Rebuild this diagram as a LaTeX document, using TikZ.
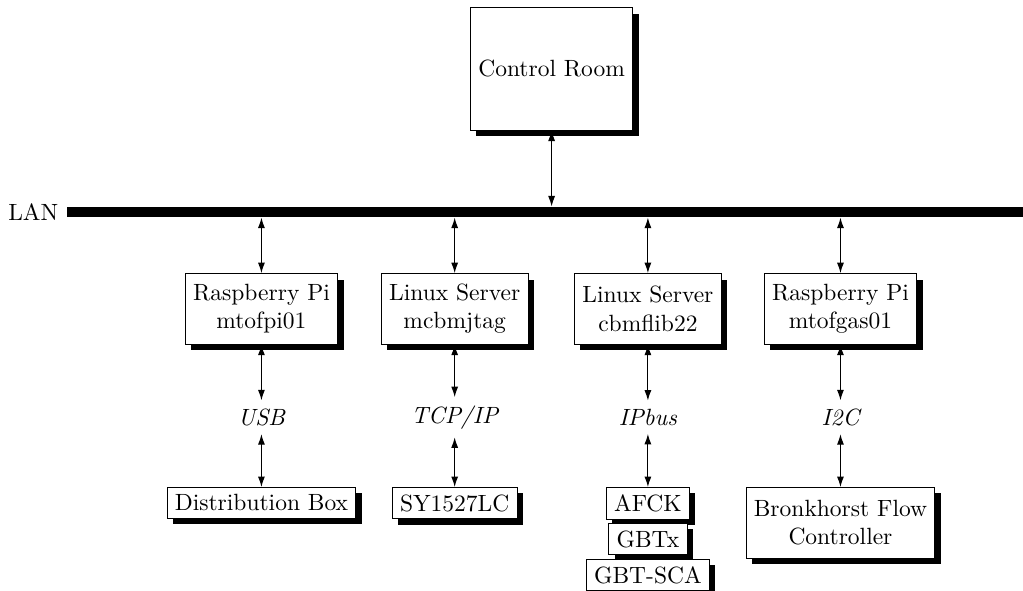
\documentclass[tikz,border=0pt]{standalone}
\usepackage{tikz}
\usetikzlibrary{shadows,positioning,arrows.meta}

\begin{document}
\begin{tikzpicture}
	[unit node/.style={rectangle, draw, fill=white, align=center, inner ysep=3pt, drop shadow={shadow xshift=2.5pt, shadow yshift=-2.5pt, fill=black, opacity=1}},
	 pair node/.style={unit node, minimum height=30pt},
	 link node/.style={font=\itshape},
	 link/.style={{Latex[length=4.5pt, width=3pt]}-{Latex[length=4.5pt, width=3pt]}, line width=0.5pt}]
	\useasboundingbox (0, 0) rectangle (15.30, -8.826);
	\node[unit node, minimum height=52pt] (cr) at (8.25, -1.03) {Control Room};
	\node[fill=black, minimum width=14.30cm, minimum height=0.15cm, inner sep=0pt] (lan) at (8.152, -3.171) {};
	\node[left=0pt of lan] (lanname) {LAN};
	% computers
	\node[pair node] (pi) at (3.91, -4.62) {Raspberry Pi\\mtofpi01};
	\node[pair node] (mj) at (6.80, -4.62) {Linux Server\\mcbmjtag};
	\node[pair node] (fl) at (9.69, -4.62) {Linux Server\\cbmflib22};
	\node[pair node] (gas) at (12.57, -4.62) {Raspberry Pi\\mtofgas01};
	% interfaces
	\node[link node] (usb) at (3.91, -6.24) {USB};
	\node[link node] (tcp) at (6.80, -6.24) {TCP/IP};
	\node[link node] (ipbus) at (9.69, -6.24) {IPbus};
	\node[link node] (i2c) at (12.57, -6.24) {I2C};
	% devices
	\node[unit node, anchor=north] (dist) at (3.91, -7.285) {Distribution Box};
	\node[unit node, anchor=north] (sy) at (6.80, -7.285) {SY1527LC};
	\node[unit node, anchor=north] (afck) at (9.69, -7.285) {AFCK};
	\node[unit node, below=1.5pt of afck] (gbtx) {GBTx};
	\node[unit node, below=1.5pt of gbtx] (sca) {GBT-SCA};
	\node[pair node, anchor=north] (flow) at (12.57, -7.285) {Bronkhorst Flow\\Controller};
	\path[link] (cr) edge (cr |- lan.north);
	\path[link] (pi |- lan.south) edge (pi);
	\path[link] (mj |- lan.south) edge (mj);
	\path[link] (fl |- lan.south) edge (fl);
	\path[link] (gas |- lan.south) edge (gas);
	\path[link] (pi) edge (usb);
	\path[link] (mj) edge (tcp);
	\path[link] (fl) edge (ipbus);
	\path[link] (gas) edge (i2c);
	\path[link] (usb) edge (dist);
	\path[link] (tcp) edge (sy);
	\path[link] (ipbus) edge (afck);
	\path[link] (i2c) edge (flow);
\end{tikzpicture}
\end{document}
